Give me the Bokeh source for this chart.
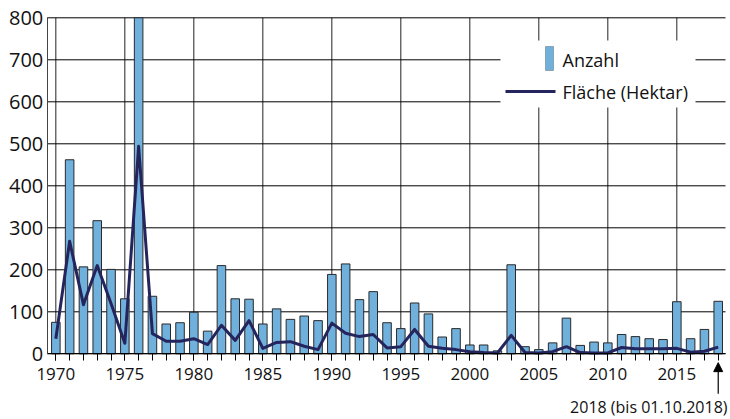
from bokeh.plotting import figure
from bokeh.models import (ColumnDataSource, Range1d, FixedTicker, BoxAnnotation,
                          Label, Arrow, NormalHead)
from bokeh.embed import file_html
from bokeh.resources import INLINE

years = list(range(1970, 2019))
anzahl = [75, 462, 207, 317, 201, 131, 800, 137, 71, 74,
          99, 54, 210, 131, 130, 71, 107, 82, 90, 79,
          189, 214, 129, 148, 74, 60, 121, 95, 40, 60,
          21, 21, 7, 212, 17, 10, 26, 85, 20, 28,
          26, 46, 41, 36, 34, 124, 36, 58, 125]
flaeche = [36, 268, 117, 210, 120, 25, 494, 48, 30, 30,
           36, 22, 68, 32, 79, 13, 27, 29, 18, 10,
           73, 49, 41, 46, 14, 17, 58, 18, 13, 10,
           5, 3, 2, 44, 3, 2, 5, 17, 3, 2,
           2, 15, 12, 12, 12, 13, 4, 6, 16]
major_years = list(range(1970, 2016, 5))
y_ticks = list(range(0, 801, 100))
series_names = ["Anzahl", "Fläche (Hektar)"]
note_text = "2018 (bis 01.10.2018)"

BAR_COLOR = "#6fb0dc"
LINE_COLOR = "#25255e"
# plotting area of the chart
AX_X0, AX_X1 = 1969.38, 2018.53
AX_Y0, AX_Y1 = 0, 800
# the frame spans the whole canvas so that tick labels and the note are not clipped
X_MIN, X_MAX = 1965.99, 2018.89
Y_MIN, Y_MAX = -156.4, 841.2

src = ColumnDataSource(dict(x=years, anzahl=anzahl, flaeche=flaeche))

p = figure(width=730, height=419, output_backend="svg", toolbar_location=None,
           x_range=Range1d(X_MIN, X_MAX), y_range=Range1d(Y_MIN, Y_MAX),
           min_border_left=0, min_border_right=0, min_border_top=0,
           min_border_bottom=0)
p.outline_line_color = None
p.background_fill_color = "white"
p.xgrid.visible = False
p.ygrid.visible = False

# grid lines limited to the plotting area
p.segment(x0=major_years, x1=major_years, y0=[AX_Y0] * len(major_years),
          y1=[AX_Y1] * len(major_years), line_color="#222", line_width=1)
p.segment(x0=[AX_X0] * len(y_ticks), x1=[AX_X1] * len(y_ticks), y0=y_ticks,
          y1=y_ticks, line_color="black", line_width=1)

p.vbar(x="x", top="anzahl", width=0.62, source=src, fill_color=BAR_COLOR,
       line_color="#2a2a2a", line_width=1)
p.line(x="x", y="flaeche", source=src, line_color=LINE_COLOR, line_width=3,
       line_join="round")

# axes
xa = p.xaxis[0]
xa.fixed_location = AX_Y0
xa.bounds = (AX_X0, AX_X1)
xa.ticker = FixedTicker(ticks=major_years, minor_ticks=years)
xa.axis_line_color = "black"
xa.major_tick_out = 7
xa.major_tick_in = 0
xa.minor_tick_out = 7
xa.minor_tick_in = 0
xa.major_tick_line_color = "black"
xa.minor_tick_line_color = "black"
xa.major_label_text_font = "Open Sans"
xa.major_label_text_font_size = "17px"
xa.major_label_text_color = "#111"
xa.major_label_standoff = 7

ya = p.yaxis[0]
ya.fixed_location = AX_X0
ya.bounds = (AX_Y0, AX_Y1)
ya.ticker = FixedTicker(ticks=y_ticks)
ya.axis_line_color = "#444"
ya.major_tick_out = 0
ya.major_tick_in = 0
ya.minor_tick_line_color = None
ya.major_label_text_font = "Open Sans"
ya.major_label_text_font_size = "20px"
ya.major_label_text_color = "#111"
ya.major_label_standoff = 4

# legend (screen units, y measured from the bottom)
def sbox(l, r, b, t, **kw):
    return BoxAnnotation(left=l, right=r, bottom=b, top=t,
                         left_units="screen", right_units="screen",
                         bottom_units="screen", top_units="screen",
                         fill_alpha=1, level="overlay", **kw)

p.add_layout(sbox(500, 695, 312, 379, fill_color="white", line_color=None))
p.add_layout(sbox(545, 553, 349, 373, fill_color=BAR_COLOR,
                  line_color="#2a2a2a", line_width=1))
p.add_layout(sbox(505, 555, 326.5, 329.5, fill_color=LINE_COLOR, line_color=None))
for name, ypos in zip(series_names, [360, 328]):
    p.add_layout(Label(x=562, y=ypos, x_units="screen", y_units="screen",
                       text=name, text_font="Open Sans", text_font_size="18px",
                       text_baseline="middle", text_align="left",
                       text_color="#111", level="overlay"))

# note below the axis, with arrow to 2018
p.add_layout(Label(x=727, y=13, x_units="screen", y_units="screen",
                   text=note_text, text_font="Open Sans",
                   text_font_size="16px", text_baseline="middle",
                   text_align="right", text_color="#111", level="overlay"))
p.add_layout(Arrow(x_start=years[-1], y_start=-95, x_end=years[-1], y_end=-21,
                   line_color="black", line_width=1.2, level="overlay",
                   end=NormalHead(size=9, fill_color="black", line_color="black")))

open("out.html", "w").write(file_html(p, INLINE))
